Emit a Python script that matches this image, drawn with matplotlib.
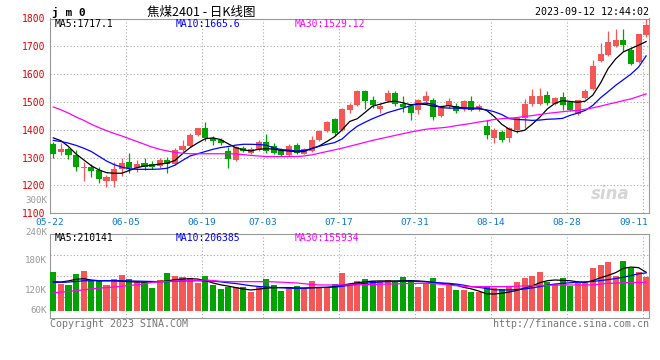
import matplotlib
matplotlib.use("Agg")
import matplotlib.pyplot as plt
import matplotlib.transforms as mtransforms
import numpy as np

# jm0 daily candles, 05-22 .. 09-11
opens = [1348, 1319, 1330, 1308, 1261, 1265, 1255, 1217, 1216, 1260,
         1284, 1261, 1282, 1276, 1270, 1290, 1278, 1327, 1341, 1381,
         1405, 1371, 1362, 1324, 1290, 1333, 1318, 1326, 1356, 1342,
         1326, 1310, 1344, 1314, 1324, 1362, 1395, 1440, 1401, 1472,
         1490, 1540, 1506, 1473, 1502, 1534, 1494, 1487, 1470, 1502,
         1508, 1451, 1487, 1487, 1473, 1502, 1477, 1413, 1371, 1393,
         1371, 1399, 1442, 1492, 1493, 1525, 1493, 1517, 1501, 1457,
         1513, 1545, 1648, 1668, 1700, 1721, 1688, 1644, 1739]
highs = [1358, 1352, 1337, 1328, 1284, 1278, 1266, 1238, 1285, 1300,
         1315, 1290, 1298, 1287, 1298, 1302, 1336, 1362, 1387, 1407,
         1427, 1377, 1370, 1338, 1342, 1341, 1338, 1365, 1386, 1354,
         1336, 1348, 1354, 1336, 1377, 1398, 1433, 1443, 1479, 1496,
         1544, 1544, 1520, 1496, 1544, 1538, 1522, 1494, 1511, 1541,
         1514, 1490, 1515, 1498, 1508, 1520, 1494, 1434, 1407, 1401,
         1411, 1447, 1510, 1545, 1552, 1540, 1518, 1537, 1505, 1508,
         1545, 1650, 1712, 1755, 1764, 1764, 1698, 1746, 1799]
lows = [1300, 1309, 1294, 1252, 1217, 1231, 1210, 1196, 1194, 1235,
        1244, 1250, 1255, 1260, 1264, 1244, 1272, 1315, 1338, 1378,
        1360, 1345, 1346, 1262, 1288, 1321, 1314, 1324, 1318, 1312,
        1306, 1306, 1312, 1312, 1321, 1360, 1393, 1377, 1395, 1461,
        1487, 1475, 1478, 1461, 1499, 1487, 1463, 1434, 1458, 1494,
        1437, 1446, 1478, 1461, 1467, 1467, 1467, 1368, 1354, 1358,
        1358, 1390, 1406, 1485, 1488, 1488, 1490, 1470, 1468, 1455,
        1510, 1542, 1645, 1664, 1698, 1683, 1633, 1640, 1735]
closes = [1313, 1330, 1309, 1266, 1267, 1252, 1224, 1229, 1260, 1279,
          1262, 1276, 1268, 1268, 1290, 1277, 1326, 1341, 1383, 1405,
          1370, 1360, 1352, 1294, 1339, 1324, 1330, 1356, 1324, 1316,
          1310, 1342, 1318, 1330, 1362, 1395, 1428, 1389, 1475, 1490,
          1538, 1502, 1490, 1487, 1534, 1494, 1482, 1461, 1506, 1520,
          1446, 1487, 1502, 1467, 1505, 1470, 1487, 1380, 1401, 1365,
          1405, 1443, 1492, 1521, 1521, 1495, 1513, 1489, 1471, 1507,
          1539, 1628, 1674, 1715, 1724, 1703, 1638, 1743, 1775]
volume = [213, 146, 141, 200, 217, 164, 164, 141, 173, 195,
          173, 163, 159, 126, 168, 208, 191, 186, 177, 153,
          190, 141, 119, 132, 128, 128, 105, 128, 173, 141,
          110, 128, 137, 124, 164, 128, 128, 146, 207, 146,
          164, 173, 163, 163, 168, 155, 184, 168, 128, 150,
          178, 126, 141, 115, 113, 105, 101, 132, 124, 119,
          132, 155, 180, 188, 211, 159, 148, 180, 137, 150,
          150, 233, 247, 268, 188, 273, 233, 211, 184]  # thousand lots

ma5 = [1371, 1361, 1340, 1313, 1292, 1271, 1256, 1246, 1244, 1244,
       1254, 1264, 1270, 1273, 1277, 1280, 1290, 1314, 1336, 1353,
       1368, 1371, 1365, 1350, 1336, 1328, 1324, 1330, 1332, 1331,
       1326, 1324, 1321, 1322, 1333, 1342, 1358, 1375, 1400, 1430,
       1440, 1462, 1485, 1492, 1500, 1503, 1497, 1490, 1493, 1491,
       1485, 1483, 1487, 1482, 1479, 1478, 1478, 1470, 1448, 1420,
       1402, 1393, 1398, 1420, 1445, 1475, 1495, 1505, 1502, 1499,
       1503, 1525, 1568, 1620, 1655, 1680, 1692, 1704, 1717.1]
ma10 = [1362, 1358, 1352, 1344, 1334, 1322, 1305, 1288, 1275, 1266,
        1260, 1258, 1258, 1258, 1259, 1262, 1273, 1290, 1306, 1314,
        1322, 1330, 1336, 1340, 1345, 1348, 1348, 1347, 1345, 1335,
        1329, 1327, 1324, 1326, 1332, 1341, 1348, 1354, 1367, 1392,
        1413, 1427, 1440, 1451, 1462, 1470, 1478, 1487, 1493, 1496,
        1492, 1480, 1478, 1478, 1476, 1475, 1475, 1472, 1465, 1455,
        1440, 1437, 1436, 1434, 1435, 1438, 1439, 1441, 1452, 1460,
        1470, 1488, 1515, 1537, 1560, 1580, 1600, 1625, 1665.6]
ma30 = [1482, 1472, 1460, 1446, 1434, 1420, 1408, 1397, 1387, 1378,
        1368, 1358, 1348, 1338, 1330, 1324, 1319, 1316, 1314, 1314,
        1314, 1314, 1314, 1314, 1313, 1311, 1308, 1306, 1304, 1304,
        1304, 1304, 1304, 1306, 1310, 1316, 1322, 1328, 1334, 1341,
        1348, 1355, 1362, 1368, 1374, 1380, 1386, 1392, 1397, 1402,
        1405, 1407, 1410, 1415, 1419, 1423, 1428, 1432, 1437, 1440,
        1442, 1444, 1448, 1451, 1455, 1459, 1462, 1465, 1468, 1470,
        1474, 1479, 1485, 1492, 1498, 1505, 1511, 1520, 1529.12]

vma5 = [159, 157, 163, 172, 175, 168, 164, 164, 164, 161,
        159, 157, 157, 158, 160, 163, 170, 173, 175, 173,
        165, 152, 142, 135, 127, 119, 114, 118, 124, 126,
        127, 127, 124, 124, 126, 127, 128, 132, 140, 147,
        153, 158, 162, 163, 163, 163, 164, 164, 163, 160,
        155, 150, 146, 140, 128, 120, 108, 93, 92, 96,
        103, 112, 124, 136, 153, 164, 168, 166, 164, 158,
        155, 165, 180, 193, 208, 231, 238, 235, 210.141]
vma10 = [155, 155, 157, 160, 164, 164, 164, 164, 164, 164,
         163, 162, 161, 160, 159, 159, 161, 163, 164, 164,
         163, 162, 158, 153, 149, 143, 137, 133, 130, 128,
         126, 124, 123, 124, 126, 128, 128, 130, 134, 139,
         145, 150, 154, 157, 159, 160, 161, 161, 160, 158,
         155, 152, 150, 146, 140, 132, 128, 122, 115, 114,
         114, 116, 120, 125, 132, 140, 146, 150, 153, 156,
         158, 160, 165, 170, 176, 183, 192, 202, 206.385]
vma30 = [99, 102, 106, 110, 115, 120, 124, 127, 130, 134,
         138, 142, 148, 155, 159, 160, 162, 163, 165, 166,
         168, 165, 161, 159, 159, 159, 159, 159, 159, 158,
         156, 154, 152, 148, 144, 141, 141, 141, 141, 141,
         142, 143, 144, 145, 146, 147, 148, 149, 150, 150,
         149, 145, 141, 137, 134, 132, 132, 132, 132, 132,
         133, 134, 136, 137, 138, 139, 140, 141, 141, 141,
         141, 142, 146, 150, 151, 153, 154, 155, 155.934]

tick_idx = [0, 10, 20, 28, 38, 48, 58, 68, 78]
tick_lab = ["05-22", "06-05", "06-19", "07-03", "07-17",
            "07-31", "08-14", "08-28", "09-11"]
price_ticks = [1100, 1200, 1300, 1400, 1500, 1600, 1700, 1800]
vol_labels = ["240K", "180K", "120K", "60K"]

RED = "#f55656"
GREEN = "#00a300"
MONO = "DejaVu Sans Mono"
GRIDC = "#aaaaaa"
EDGE = "#999999"

x = np.arange(len(closes))
o = np.array(opens, float)
c = np.array(closes, float)
up = c >= o
cols = np.where(up, RED, GREEN)
xl = (-0.434, 78.38)
gx = [i - 0.43 for i in tick_idx]

fig = plt.figure(figsize=(6.6, 3.6), dpi=100)
ax = fig.add_axes([50 / 660, 1 - 213.3 / 360, 599 / 660, 194.8 / 360])
av = fig.add_axes([50 / 660, 1 - 318.3 / 360, 599 / 660, 84 / 360])

# ---- price panel
ax.vlines(x, lows, highs, colors=cols, lw=0.9, zorder=3)
ax.bar(x, np.maximum(np.abs(c - o), 3), bottom=np.minimum(o, c), width=0.79,
       color=cols, lw=0, zorder=4)
ax.plot(x, ma5, color="black", lw=0.9, zorder=5)
ax.plot(x, ma10, color="#0000ff", lw=0.9, zorder=5)
ax.plot(x, ma30, color="#ff00ff", lw=0.9, zorder=5)
ax.set_xlim(*xl)
ax.set_ylim(1100, 1800)
ax.set_yticks(price_ticks)
ax.set_yticklabels([str(p) for p in price_ticks], family=MONO, fontsize=7, color="#e60000")
for t, p in zip(ax.get_yticklabels(), price_ticks):
    up_px = 2.7 if p == 1100 else 2.0
    t.set_transform(t.get_transform() + mtransforms.ScaledTranslation(0, up_px / 100, fig.dpi_scale_trans))
ax.set_xticks(gx[1:])
ax.set_xticklabels([])
ax.tick_params(length=0, pad=3)
ax.grid(True, ls=(0, (1, 2)), color=GRIDC, lw=0.8)
for s in ax.spines.values():
    s.set_color(EDGE)
ax.text(-0.005, 1147, "300K", transform=mtransforms.blended_transform_factory(ax.transAxes, ax.transData),
        ha="right", va="center", family=MONO, fontsize=6.6, color="#999999")

trans = mtransforms.blended_transform_factory(ax.transData, ax.transAxes)
for i, lab in zip(tick_idx, tick_lab):
    xpos = i - 0.43 if i < 78 else 76.4
    ax.text(xpos, -0.045, lab, transform=trans, ha="center", va="center",
            family=MONO, fontsize=6.8, color="#0a78d6")

ax.text(0.008, 0.972, "MA5:%.1f" % ma5[-1], transform=ax.transAxes, va="center",
        family=MONO, fontsize=7, color="black")
ax.text(0.209, 0.972, "MA10:%.1f" % ma10[-1], transform=ax.transAxes, va="center",
        family=MONO, fontsize=7, color="#0000ff")
ax.text(0.409, 0.972, "MA30:%.2f" % ma30[-1], transform=ax.transAxes, va="center",
        family=MONO, fontsize=7, color="#ff00ff")
ax.text(0.935, 0.1, "sina", transform=ax.transAxes, ha="center", va="center",
        fontsize=12, style="italic", weight="bold", color="#d6d6d6", zorder=1)

# ---- volume panel
vol = np.array(volume) * 1000
av.bar(x, vol, width=0.79, color=cols, lw=0, zorder=3)
av.plot(x, np.array(vma5) * 1000, color="black", lw=0.9, zorder=4)
av.plot(x, np.array(vma10) * 1000, color="#0000ff", lw=0.9, zorder=4)
av.plot(x, np.array(vma30) * 1000, color="#ff00ff", lw=0.9, zorder=4)
av.set_xlim(*xl)
av.set_ylim(-39600, 415700)
av.set_xticks(gx[1:])
av.set_xticklabels([])
av.set_yticks([])
av.tick_params(length=0)
av.grid(True, axis="x", ls=(0, (1, 2)), color=GRIDC, lw=0.8)
for f in (0.25, 0.5, 0.75):
    av.axhline(-39600 + f * (415700 + 39600), ls=(0, (1, 2)), color=GRIDC, lw=0.8, zorder=1)
for s in av.spines.values():
    s.set_color(EDGE)
for lab, fy in zip(vol_labels, [1.018, 0.694, 0.329, 0.087]):
    av.text(-0.005, fy, lab, transform=av.transAxes, ha="right", va="center",
            family=MONO, fontsize=6.6, color="#999999")
av.text(0.008, 0.955, "MA5:%d" % round(vma5[-1] * 1000), transform=av.transAxes, va="center",
        family=MONO, fontsize=7, color="black")
av.text(0.209, 0.955, "MA10:%d" % round(vma10[-1] * 1000), transform=av.transAxes, va="center",
        family=MONO, fontsize=7, color="#0000ff")
av.text(0.409, 0.955, "MA30:%d" % round(vma30[-1] * 1000), transform=av.transAxes, va="center",
        family=MONO, fontsize=7, color="#ff00ff")

# ---- header / footer
fig.text(52 / 660, 1 - 12 / 360, "j m 0", family=MONO, weight="bold", fontsize=8, va="center")
fig.text(201 / 660, 1 - 12 / 360, "焦煤2401 - 日K线图", family=["Noto Sans CJK SC", "DejaVu Sans"],
         fontsize=9, ha="center", va="center")
fig.text(649 / 660, 1 - 12 / 360, "2023-09-12 12:44:02", family=MONO, fontsize=7.2,
         ha="right", va="center")
fig.text(50 / 660, 1 - 324 / 360, "Copyright 2023 SINA.COM", family=MONO, fontsize=7.2,
         color="#777777", va="center")
fig.text(649 / 660, 1 - 324 / 360, "http://finance.sina.com.cn", family=MONO, fontsize=7.2,
         color="#777777", ha="right", va="center")

fig.savefig("out.png", dpi=100)
